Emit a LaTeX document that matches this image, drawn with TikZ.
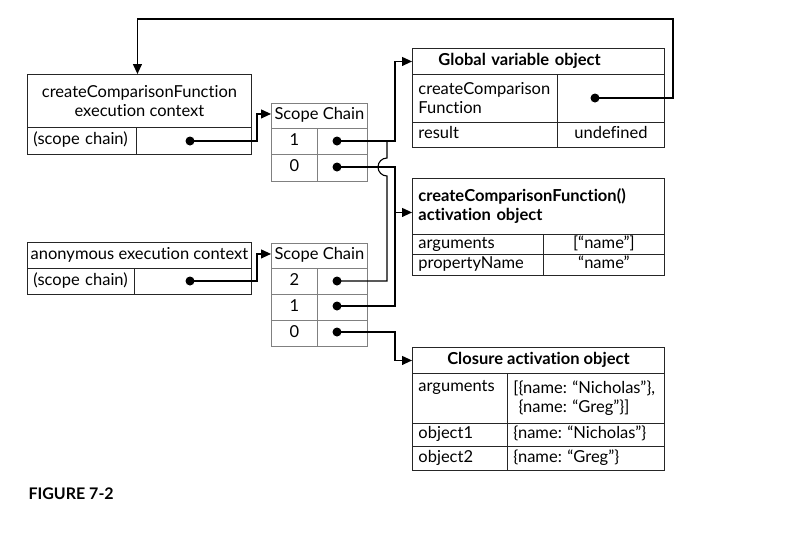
\documentclass[tikz,border=0pt]{standalone}
\usepackage{fontspec}
\setmainfont{Lato}[Ligatures={NoCommon,NoRare}]
\usepackage{tikz}
\usetikzlibrary{arrows.meta}
\tikzset{
cell/.style={draw=black!85, line width=0.9pt, rectangle, anchor=north west, inner ysep=0pt},
lcell/.style={cell, inner xsep=6pt, align=left},
ccell/.style={cell, inner sep=0pt, align=center},
one/.style={text height=12pt, text depth=4pt},
chain/.style={ccell, one, draw=black!50},
title/.style={font=\fontsize{16.5}{19}\selectfont\bfseries},
dot/.style={circle, fill=black, inner sep=0pt, minimum size=9pt},
conn/.style={line width=1.1pt},
link/.style={conn, -{Triangle[length=10pt,width=9pt]}},
}

\begin{document}
\frenchspacing
\begin{tikzpicture}[x=1pt, y=-1pt, font=\fontsize{16.5}{19}\selectfont]
\useasboundingbox (0,0) rectangle (795,550);
% execution context of createComparisonFunction
\node[ccell, minimum width=224pt, minimum height=53pt] (ctx-t) at (27,74) {createComparisonFunction\\execution context};
\node[lcell, one, text width=97pt, minimum height=27pt] (ctx-1) at (27,127) {(scope~chain)};
\node[ccell, minimum width=115pt, minimum height=27pt] (ctx-1v) at (136,127) {};
\node[dot] (ctx-d) at (190,141) {};
% its scope chain
\node[chain, minimum width=96pt, minimum height=25pt] (scA-t) at (271,103) {Scope Chain};
\node[chain, minimum width=46pt, minimum height=26pt] (scA-1) at (271,128) {1};
\node[chain, minimum width=50pt, minimum height=26pt] (scA-1v) at (317,128) {};
\node[chain, minimum width=46pt, minimum height=27pt] (scA-0) at (271,154) {0};
\node[chain, minimum width=50pt, minimum height=27pt] (scA-0v) at (317,154) {};
\node[dot] (scA-d1) at (337,141) {};
\node[dot] (scA-d0) at (337,167) {};
% global variable object
\node[lcell, one, title, inner xsep=26pt, text width=200pt, minimum height=26pt] (gvo-t) at (412,48) {Global variable object};
\node[lcell, text width=133pt, minimum height=48pt] (gvo-1) at (412,74) {createComparison\\Function};
\node[ccell, minimum width=107pt, minimum height=48pt] (gvo-1v) at (557,74) {};
\node[lcell, one, text width=133pt, minimum height=25pt] (gvo-2) at (412,122) {result};
\node[ccell, one, minimum width=107pt, minimum height=25pt] (gvo-2v) at (557,122) {undefined};
\node[dot] (gvo-d) at (595,98) {};
% activation object of createComparisonFunction()
\node[lcell, title, text width=240pt, minimum height=56pt] (act-t) at (412,178) {createComparisonFunction()\\activation object};
\node[lcell, one, text width=119pt, minimum height=20pt] (act-1) at (412,234) {arguments};
\node[ccell, one, minimum width=121pt, minimum height=20pt] (act-1v) at (543,234) {[“name”]};
\node[lcell, one, text width=119pt, minimum height=21pt] (act-2) at (412,254) {propertyName};
\node[ccell, one, minimum width=121pt, minimum height=21pt] (act-2v) at (543,254) {“name”};
% anonymous execution context
\node[ccell, one, minimum width=224pt, minimum height=26pt] (anon-t) at (27,242) {anonymous execution context};
\node[lcell, one, text width=95pt, minimum height=26pt] (anon-1) at (27,268) {(scope~chain)};
\node[ccell, minimum width=117pt, minimum height=26pt] (anon-1v) at (134,268) {};
\node[dot] (anon-d) at (190,281) {};
% its scope chain
\node[chain, minimum width=96pt, minimum height=25pt] (scB-t) at (271,243) {Scope Chain};
\node[chain, minimum width=46pt, minimum height=26pt] (scB-2) at (271,268) {2};
\node[chain, minimum width=50pt, minimum height=26pt] (scB-2v) at (317,268) {};
\node[chain, minimum width=46pt, minimum height=26pt] (scB-1) at (271,294) {1};
\node[chain, minimum width=50pt, minimum height=26pt] (scB-1v) at (317,294) {};
\node[chain, minimum width=46pt, minimum height=26pt] (scB-0) at (271,320) {0};
\node[chain, minimum width=50pt, minimum height=26pt] (scB-0v) at (317,320) {};
\node[dot] (scB-d2) at (337,281) {};
\node[dot] (scB-d1) at (337,306) {};
\node[dot] (scB-d0) at (337,332) {};
% closure activation object
\node[ccell, one, title, minimum width=252pt, minimum height=26pt] (clo-t) at (412,347) {Closure activation object};
\node[lcell, text width=83pt, text height=11pt, text depth=24pt, minimum height=50pt] (clo-1) at (412,373) {arguments};
\node[lcell, text width=145pt, minimum height=50pt] (clo-1v) at (507,373) {[\{name: “Nicholas”\},\\\phantom{[}\{name: “Greg”\}]};
\node[lcell, one, text width=83pt, minimum height=23pt] (clo-2) at (412,423) {object1};
\node[lcell, one, text width=145pt, minimum height=23pt] (clo-2v) at (507,423) {\{name: “Nicholas”\}};
\node[lcell, one, text width=83pt, minimum height=24pt] (clo-3) at (412,446) {object2};
\node[lcell, one, text width=145pt, minimum height=24pt] (clo-3v) at (507,446) {\{name: “Greg”\}};
\node[anchor=west, font=\fontsize{16}{18}\selectfont\bfseries] (fig) at (25,494) {FIGURE 7-2};
% the links
\coordinate (top) at (673,19);
\coordinate (hop) at (387,167);
\draw[link] (gvo-d.center) -| (top) -| ([xshift=-2pt]ctx-t.north);
\draw[link] (ctx-d.center) -| ([xshift=-14pt,yshift=2pt]scA-t.west) -- ([yshift=2pt]scA-t.west);
\draw[link] (anon-d.center) -| ([xshift=-14pt,yshift=2pt]scB-t.west) -- ([yshift=2pt]scB-t.west);
\draw[link] (scA-d1.center) -| ([xshift=-17pt]gvo-t.west) -- (gvo-t.west);
\draw[link] (scA-d0.center) -| ([xshift=-17pt,yshift=-6pt]act-t.west) -- ([yshift=-6pt]act-t.west);
\draw[conn] (scB-d1.center) -| ([xshift=-17pt,yshift=-6pt]act-t.west);
\draw[conn] (scB-d2.center) -| ([yshift=-9pt]hop) arc[start angle=270, end angle=90, radius=9pt] -- (hop |- scA-d1);
\draw[link] (scB-d0.center) -| ([xshift=-17pt]clo-t.west) -- (clo-t.west);
\end{tikzpicture}
\end{document}
